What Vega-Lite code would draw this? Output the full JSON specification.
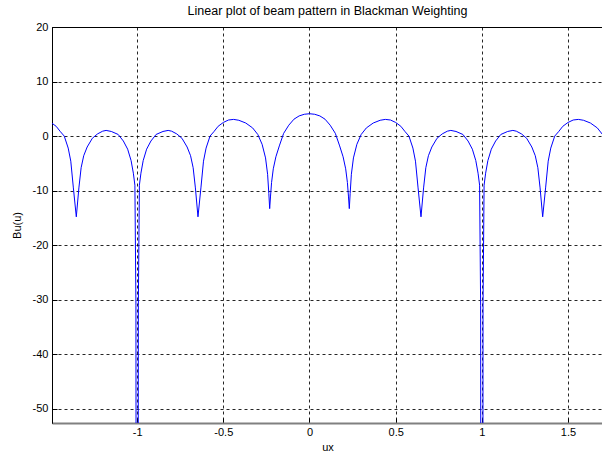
{
  "$schema": "https://vega.github.io/schema/vega-lite/v6.json",
  "width": 551,
  "height": 396,
  "autosize": {"type": "none"},
  "padding": {"left": 52, "top": 27, "right": 0, "bottom": 31},
  "background": "white",
  "title": {"text": "Linear plot of beam pattern in Blackman Weighting", "font": "Liberation Sans", "fontSize": 12.5, "fontWeight": "normal", "color": "#000", "offset": 4},
  "config": {
    "view": {"stroke": "#000", "strokeWidth": 1},
    "axis": {
      "labelFont": "Liberation Sans", "labelFontSize": 11, "labelColor": "#000",
      "titleFont": "Liberation Sans", "titleFontSize": 11, "titleFontWeight": "normal", "titleColor": "#000",
      "grid": true, "gridColor": "#000", "gridDash": [3, 3], "gridOpacity": 0.85, "gridWidth": 1,
      "tickColor": "#000", "tickSize": -5, "domainColor": "#000"
    }
  },
  "data": {"values": [
    {"ux": -1.494, "bu": 2.35}, {"ux": -1.47, "bu": 1.8}, {"ux": -1.445, "bu": 0.8}, {"ux": -1.423, "bu": 0.0},
    {"ux": -1.40, "bu": -2.2}, {"ux": -1.385, "bu": -4.6}, {"ux": -1.37, "bu": -9.5}, {"ux": -1.353, "bu": -14.8},
    {"ux": -1.338, "bu": -9.5}, {"ux": -1.325, "bu": -5.8}, {"ux": -1.31, "bu": -3.6}, {"ux": -1.29, "bu": -2.0},
    {"ux": -1.26, "bu": -0.4}, {"ux": -1.23, "bu": 0.4}, {"ux": -1.20, "bu": 0.9}, {"ux": -1.18, "bu": 1.04},
    {"ux": -1.15, "bu": 0.85}, {"ux": -1.11, "bu": 0.3}, {"ux": -1.08, "bu": -0.9}, {"ux": -1.055, "bu": -2.4},
    {"ux": -1.035, "bu": -4.5}, {"ux": -1.022, "bu": -6.8}, {"ux": -1.013, "bu": -9}, {"ux": -1.007, "bu": -31},
    {"ux": -1.0, "bu": -320},
    {"ux": -0.993, "bu": -31}, {"ux": -0.987, "bu": -9}, {"ux": -0.978, "bu": -6.8}, {"ux": -0.965, "bu": -4.5},
    {"ux": -0.945, "bu": -2.4}, {"ux": -0.92, "bu": -0.9}, {"ux": -0.89, "bu": 0.3}, {"ux": -0.85, "bu": 0.85},
    {"ux": -0.82, "bu": 1.04}, {"ux": -0.80, "bu": 0.9}, {"ux": -0.77, "bu": 0.4}, {"ux": -0.74, "bu": -0.4},
    {"ux": -0.71, "bu": -2.0}, {"ux": -0.69, "bu": -3.6}, {"ux": -0.675, "bu": -5.8}, {"ux": -0.662, "bu": -9.5},
    {"ux": -0.647, "bu": -14.8}, {"ux": -0.63, "bu": -9.5}, {"ux": -0.615, "bu": -4.6}, {"ux": -0.60, "bu": -2.2},
    {"ux": -0.577, "bu": 0.0}, {"ux": -0.555, "bu": 0.8}, {"ux": -0.53, "bu": 1.8}, {"ux": -0.50, "bu": 2.5},
    {"ux": -0.47, "bu": 2.95}, {"ux": -0.44, "bu": 3.06}, {"ux": -0.41, "bu": 2.9}, {"ux": -0.37, "bu": 2.4},
    {"ux": -0.33, "bu": 1.5}, {"ux": -0.30, "bu": 0.3}, {"ux": -0.275, "bu": -1.5}, {"ux": -0.255, "bu": -4.0},
    {"ux": -0.243, "bu": -7.0}, {"ux": -0.236, "bu": -10.5}, {"ux": -0.231, "bu": -13.3}, {"ux": -0.226, "bu": -11},
    {"ux": -0.22, "bu": -8.5}, {"ux": -0.21, "bu": -6.0}, {"ux": -0.195, "bu": -3.8}, {"ux": -0.175, "bu": -1.8},
    {"ux": -0.15, "bu": 0.5}, {"ux": -0.12, "bu": 2.0}, {"ux": -0.09, "bu": 3.1}, {"ux": -0.06, "bu": 3.7},
    {"ux": -0.03, "bu": 4.0}, {"ux": 0.0, "bu": 4.1},
    {"ux": 0.03, "bu": 4.0}, {"ux": 0.06, "bu": 3.7}, {"ux": 0.09, "bu": 3.1}, {"ux": 0.12, "bu": 2.0},
    {"ux": 0.15, "bu": 0.5}, {"ux": 0.175, "bu": -1.8}, {"ux": 0.195, "bu": -3.8}, {"ux": 0.21, "bu": -6.0},
    {"ux": 0.22, "bu": -8.5}, {"ux": 0.226, "bu": -11}, {"ux": 0.231, "bu": -13.3}, {"ux": 0.236, "bu": -10.5},
    {"ux": 0.243, "bu": -7.0}, {"ux": 0.255, "bu": -4.0}, {"ux": 0.275, "bu": -1.5}, {"ux": 0.30, "bu": 0.3},
    {"ux": 0.33, "bu": 1.5}, {"ux": 0.37, "bu": 2.4}, {"ux": 0.41, "bu": 2.9}, {"ux": 0.44, "bu": 3.06},
    {"ux": 0.47, "bu": 2.95}, {"ux": 0.50, "bu": 2.5}, {"ux": 0.53, "bu": 1.8}, {"ux": 0.555, "bu": 0.8},
    {"ux": 0.577, "bu": 0.0}, {"ux": 0.60, "bu": -2.2}, {"ux": 0.615, "bu": -4.6}, {"ux": 0.63, "bu": -9.5},
    {"ux": 0.647, "bu": -14.8}, {"ux": 0.662, "bu": -9.5}, {"ux": 0.675, "bu": -5.8}, {"ux": 0.69, "bu": -3.6},
    {"ux": 0.71, "bu": -2.0}, {"ux": 0.74, "bu": -0.4}, {"ux": 0.77, "bu": 0.4}, {"ux": 0.80, "bu": 0.9},
    {"ux": 0.82, "bu": 1.04}, {"ux": 0.85, "bu": 0.85}, {"ux": 0.89, "bu": 0.3}, {"ux": 0.92, "bu": -0.9},
    {"ux": 0.945, "bu": -2.4}, {"ux": 0.965, "bu": -4.5}, {"ux": 0.978, "bu": -6.8}, {"ux": 0.987, "bu": -9},
    {"ux": 0.993, "bu": -31}, {"ux": 1.0, "bu": -320},
    {"ux": 1.007, "bu": -31}, {"ux": 1.013, "bu": -9}, {"ux": 1.022, "bu": -6.8}, {"ux": 1.035, "bu": -4.5},
    {"ux": 1.055, "bu": -2.4}, {"ux": 1.08, "bu": -0.9}, {"ux": 1.11, "bu": 0.3}, {"ux": 1.15, "bu": 0.85},
    {"ux": 1.18, "bu": 1.04}, {"ux": 1.20, "bu": 0.9}, {"ux": 1.23, "bu": 0.4}, {"ux": 1.26, "bu": -0.4},
    {"ux": 1.29, "bu": -2.0}, {"ux": 1.31, "bu": -3.6}, {"ux": 1.325, "bu": -5.8}, {"ux": 1.338, "bu": -9.5},
    {"ux": 1.353, "bu": -14.8}, {"ux": 1.37, "bu": -9.5}, {"ux": 1.385, "bu": -4.6}, {"ux": 1.40, "bu": -2.2},
    {"ux": 1.423, "bu": 0.0}, {"ux": 1.445, "bu": 0.8}, {"ux": 1.47, "bu": 1.8}, {"ux": 1.50, "bu": 2.5},
    {"ux": 1.53, "bu": 2.95}, {"ux": 1.56, "bu": 3.06}, {"ux": 1.59, "bu": 2.9}, {"ux": 1.63, "bu": 2.4},
    {"ux": 1.67, "bu": 1.5}, {"ux": 1.70, "bu": 0.3}, {"ux": 1.703, "bu": 0.2}
  ]},
  "mark": {"type": "line", "color": "#0000ff", "strokeWidth": 1, "clip": true},
  "encoding": {
    "x": {
      "field": "ux", "type": "quantitative",
      "scale": {"domain": [-1.494, 1.703], "nice": false, "zero": false},
      "axis": {"values": [-1, -0.5, 0, 0.5, 1, 1.5], "labelExpr": "'' + datum.value", "title": "ux", "labelPadding": 8, "titlePadding": 4, "domainColor": "#808080", "domainWidth": 2}
    },
    "y": {
      "field": "bu", "type": "quantitative",
      "scale": {"domain": [-52.6, 20], "nice": false, "zero": false},
      "axis": {"values": [-50, -40, -30, -20, -10, 0, 10, 20], "labelExpr": "'' + datum.value", "title": "Bu(u)", "labelPadding": 9, "titlePadding": 10}
    }
  }
}
